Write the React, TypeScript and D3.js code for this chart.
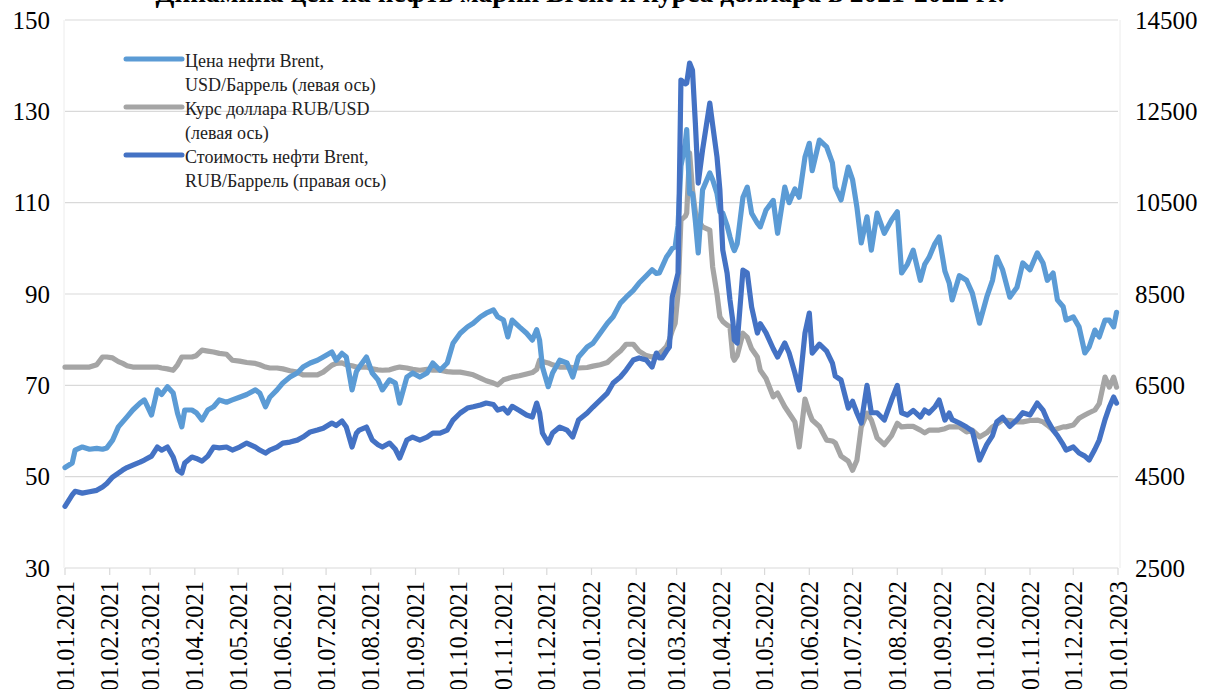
import React from 'react';
import * as d3 from 'd3';

const dates = [
  '2021-01-01','2021-01-06','2021-01-08','2021-01-13','2021-01-18','2021-01-23','2021-01-27','2021-01-30',
  '2021-02-03','2021-02-07','2021-02-10','2021-02-13','2021-02-17','2021-02-22','2021-02-25',
  '2021-03-02','2021-03-06','2021-03-09','2021-03-13','2021-03-17','2021-03-20','2021-03-23','2021-03-25','2021-03-30',
  '2021-04-02','2021-04-06','2021-04-10','2021-04-14','2021-04-18','2021-04-23','2021-04-27',
  '2021-05-02','2021-05-07','2021-05-13','2021-05-16','2021-05-20','2021-05-23','2021-05-28',
  '2021-06-01','2021-06-06','2021-06-11','2021-06-15','2021-06-20','2021-06-25','2021-06-29',
  '2021-07-05','2021-07-08','2021-07-12','2021-07-15','2021-07-19','2021-07-22','2021-07-24','2021-07-29',
  '2021-08-02','2021-08-06','2021-08-09','2021-08-14','2021-08-18','2021-08-21','2021-08-26','2021-08-30',
  '2021-09-04','2021-09-09','2021-09-13','2021-09-18','2021-09-23','2021-09-27',
  '2021-10-02','2021-10-07','2021-10-11','2021-10-16','2021-10-20','2021-10-25','2021-10-28',
  '2021-11-01','2021-11-04','2021-11-07','2021-11-12','2021-11-17','2021-11-21','2021-11-24','2021-11-26','2021-11-28',
  '2021-12-02','2021-12-05','2021-12-10','2021-12-15','2021-12-19','2021-12-23','2021-12-29',
  '2022-01-02','2022-01-07','2022-01-12','2022-01-16','2022-01-21','2022-01-25','2022-01-30',
  '2022-02-03','2022-02-08','2022-02-12','2022-02-15','2022-02-17','2022-02-19','2022-02-22','2022-02-24','2022-02-26','2022-02-28',
  '2022-03-02','2022-03-04','2022-03-07','2022-03-08','2022-03-10','2022-03-12','2022-03-14','2022-03-16','2022-03-19',
  '2022-03-24','2022-03-26','2022-03-29','2022-03-31',
  '2022-04-02','2022-04-05','2022-04-07','2022-04-09','2022-04-10','2022-04-12','2022-04-16','2022-04-19','2022-04-22','2022-04-26','2022-04-28',
  '2022-05-02','2022-05-07','2022-05-10','2022-05-15','2022-05-18','2022-05-22','2022-05-25','2022-05-29',
  '2022-06-01','2022-06-03','2022-06-08','2022-06-13','2022-06-17','2022-06-19','2022-06-23','2022-06-28',
  '2022-07-01','2022-07-04','2022-07-07','2022-07-11','2022-07-14','2022-07-18','2022-07-23','2022-07-28',
  '2022-08-01','2022-08-04','2022-08-08','2022-08-12','2022-08-17','2022-08-20','2022-08-23','2022-08-27','2022-08-30',
  '2022-09-03','2022-09-06','2022-09-08','2022-09-13','2022-09-18','2022-09-22','2022-09-27',
  '2022-10-02','2022-10-06','2022-10-09','2022-10-13','2022-10-18','2022-10-23','2022-10-27',
  '2022-11-01','2022-11-06','2022-11-10','2022-11-13','2022-11-17','2022-11-20','2022-11-24','2022-11-26',
  '2022-12-01','2022-12-05','2022-12-09','2022-12-12','2022-12-16','2022-12-19','2022-12-23','2022-12-26','2022-12-29','2022-12-31',
];

const brentUsd = [
  52, 53, 55.8, 56.5, 56, 56.2, 56, 56.3,
  58, 60.9, 62, 63.1, 64.6, 66.1, 66.8,
  63.5, 69, 68, 69.7, 68.3, 63.9, 60.9, 64.6, 64.6,
  64, 62.4, 64.6, 65.3, 66.8, 66.3, 66.8,
  67.4, 68, 69, 68.3, 65.3, 67.4, 69,
  70.5, 71.8, 72.7, 74, 74.9, 75.5, 76.2,
  77.3, 75.5, 77, 76.2, 69, 73, 74, 76.2,
  72.7, 71.2, 69, 71.2, 70.5, 66.1, 71.8, 72.7,
  71.8, 72.7, 74.9, 73.3, 74.9, 79.2,
  81.4, 82.8, 83.6, 85, 85.8, 86.5, 85,
  84.3, 80.6, 84.3, 82.8, 81.4, 79.9, 82.2, 79.9, 74,
  69.7, 72.7, 75.5, 74.9, 71.8, 76.2, 78.4,
  79.2, 81.4, 83.6, 85, 88, 89.3, 90.8,
  92.4, 94, 95.3, 94.5, 94.6, 96, 98.1, 99, 100, 100.3,
  105, 118, 123, 126, 112, 112, 106, 99, 112.8,
  116.5, 115, 112, 108,
  107.7, 105, 102.5, 100.3, 99.5, 101, 111.2, 113.4, 107.7, 105.5, 104.7,
  108.4, 110.5, 103.3, 113.4, 110, 113, 111.2, 120,
  123, 117, 123.7, 122.2, 118.7, 113.4, 110.6, 117.8,
  115, 109, 101.2, 106.9, 99.6, 107.7, 103.3, 106.2,
  108, 94.6, 96.5, 99.6, 93, 96.5, 98, 101, 102.5,
  95, 92.4, 88.7, 94, 93, 90.2, 83.6,
  89.3, 93, 98.1, 95.3, 89.3, 91.5, 96.8,
  95.3, 99, 96.8, 93, 94.6, 88.7, 87.2, 84.3,
  85, 82.8, 77.1, 78.4, 82.1, 80.6, 84.3, 84.3, 82.8, 86,
];

const rubUsd = [
  74, 74, 74, 74, 74, 74.5, 76.2, 76.2,
  76, 75.2, 74.8, 74.3, 74, 74, 74,
  74, 74, 73.8, 73.6, 73.3, 74.5, 76.2, 76.2, 76.2,
  76.5, 77.7, 77.5, 77.3, 77, 76.8, 75.5,
  75.3, 75, 74.8, 74.5, 74, 73.8, 73.8,
  73.6, 73.2, 72.9, 72.3, 72.3, 72.3, 72.9,
  74.4, 74.8, 74.9, 74.5, 74.3, 74, 74, 74,
  73.6, 73.4, 73.3, 73.4, 73.8, 74, 73.8, 73.5,
  73.3, 73.5, 73.3, 73.3, 73, 72.9,
  72.9, 72.6, 72.3, 71.6, 71, 70.5, 70.1,
  71.2, 71.5, 71.8, 72.1, 72.5, 72.8, 73.5, 75.5, 75.2,
  74.9, 74.5, 74, 74, 73.9, 73.8, 73.9,
  74.2, 74.5, 75, 76.2, 77.5, 79, 79,
  77.5, 76.5, 76.2, 76.5, 77, 77.5, 78.5, 80, 82, 83.6,
  90.2, 106.2, 107, 107.7, 120.9, 112.8, 108, 106.2, 104.7,
  104, 95.9, 90, 85,
  84, 83.2, 82.8, 76.2, 75.5, 76.5, 81.4, 80.5, 78, 76.2, 73.3,
  71.5, 67.5, 68.3, 65.3, 63.9, 62, 56.5, 67,
  64, 62.4, 61, 58, 57.8, 57.4, 54.5, 53.4,
  51.4, 53.6, 60.9, 63.9, 62.4, 58.5, 57, 59,
  61.7, 60.9, 61, 61, 60.2, 59.6, 60.2, 60.2, 60.2,
  60.5, 60.9, 60.9, 60.9, 59.8, 60.2, 58.7,
  59.6, 60.9, 61.5, 62.4, 62.3, 62, 62,
  62.3, 62.4, 62, 61.3, 60.2, 60.5, 60.9, 60.9,
  61.3, 62.8, 63.5, 64, 64.6, 66, 71.8, 69.6, 71.8, 69.6,
];

const brentRub = [
  3850, 4100, 4180, 4140, 4170, 4200, 4273, 4350,
  4492, 4580, 4645, 4700, 4755, 4820, 4864,
  4950, 5149, 5080, 5149, 4930, 4645, 4579, 4800, 4930,
  4900, 4840, 4950, 5149, 5130, 5149, 5083,
  5149, 5236, 5149, 5083, 5017, 5083, 5149,
  5236, 5258, 5300, 5368, 5480, 5521, 5560,
  5675, 5620, 5720, 5587, 5149, 5450, 5521, 5587,
  5302, 5200, 5149, 5236, 5100, 4908, 5302, 5368,
  5302, 5368, 5455, 5455, 5521, 5740,
  5894, 6003, 6030, 6068, 6112, 6080, 5959,
  6000, 5894, 6040, 5950, 5850, 5806, 6112, 5900, 5455,
  5236, 5455, 5587, 5521, 5368, 5740, 5894,
  6025, 6178, 6331, 6550, 6682, 6835, 7054,
  7100, 7054, 6900, 7207, 7100, 7100, 7250, 7338, 8434, 8700,
  8960, 13186, 13100, 13120, 13558, 13400, 12244, 10930, 11653,
  12682, 12200, 11500, 10777,
  9463, 8960, 8369, 7900, 7492, 7426, 9025, 8960, 8215, 7645, 7850,
  7650, 7300, 7120, 7426, 7207, 6770, 6397, 7645,
  8083, 7207, 7400, 7250, 6988, 6700, 6616, 6000,
  6150, 5894, 5675, 6500, 5900, 5900, 5740, 6178,
  6500, 5900, 5850, 5950, 5806, 5959, 5894, 6025, 6178,
  5740, 5894, 5750, 5675, 5587, 5500, 4864,
  5200, 5400, 5700, 5800, 5600, 5750, 5900,
  5850, 6112, 5959, 5740, 5521, 5400, 5200, 5083,
  5150, 5017, 4950, 4864, 5100, 5302, 5750, 6025, 6243, 6112,
];

const leftTicks = [30, 50, 70, 90, 110, 130, 150];
const rightTicks = [2500, 4500, 6500, 8500, 10500, 12500, 14500];
const monthLabels = [
  '01.01.2021','01.02.2021','01.03.2021','01.04.2021','01.05.2021','01.06.2021','01.07.2021','01.08.2021',
  '01.09.2021','01.10.2021','01.11.2021','01.12.2021','01.01.2022','01.02.2022','01.03.2022','01.04.2022',
  '01.05.2022','01.06.2022','01.07.2022','01.08.2022','01.09.2022','01.10.2022','01.11.2022','01.12.2022','01.01.2023',
];

const seriesNames = [
  ['Цена нефти Brent,', 'USD/Баррель (левая ось)'],
  ['Курс доллара RUB/USD', '(левая ось)'],
  ['Стоимость нефти Brent,', 'RUB/Баррель (правая ось)'],
];
const colors = ['#5b9bd5', '#a5a5a5', '#4472c4'];
const title = 'Динамика цен на нефть марки Brent и курса доллара в 2021-2022 гг.';

export default function App() {
  const W = 1205;
  const H = 689;
  const left = 65, right = 1118, top = 20, bottom = 568;
  const parseD = d3.timeParse('%Y-%m-%d');
  const parseM = d3.timeParse('%d.%m.%Y');
  const dd = dates.map((s) => parseD(s) as Date);
  const x = d3.scaleTime().domain([parseM('01.01.2021') as Date, parseM('01.01.2023') as Date]).range([left, right]);
  const yL = d3.scaleLinear().domain([30, 150]).range([bottom, top]);
  const yR = d3.scaleLinear().domain([2500, 14500]).range([bottom, top]);
  const lineL = d3.line<number>().x((_, i) => x(dd[i])).y((v) => yL(v));
  const lineR = d3.line<number>().x((_, i) => x(dd[i])).y((v) => yR(v));
  const font = '"Liberation Serif", "Times New Roman", serif';
  const grid = '#d9d9d9';
  const sw = 5.2;

  const legendY = [59, 107, 155];

  return (
    <svg width={W} height={H} style={{ position: 'absolute', left: 0, top: 0, background: '#fff' }} fontFamily={font}>
      <rect x={0} y={0} width={W} height={H} fill="#fff" />
      <text x={580} y={1.5} textAnchor="middle" fontSize={27.5} fontWeight="bold" fill="#000">{title}</text>
      {leftTicks.map((t) => (
        <line key={'g' + t} x1={left} x2={right} y1={yL(t)} y2={yL(t)} stroke={grid} strokeWidth={1.2} />
      ))}
      <line x1={left - 1} x2={left - 1} y1={top} y2={bottom} stroke="#ececec" strokeWidth={1} />
      <line x1={right + 2} x2={right + 2} y1={top} y2={bottom} stroke="#ececec" strokeWidth={1} />
      {monthLabels.map((m) => {
        const xx = x(parseM(m) as Date);
        return (
          <g key={m}>
            <line x1={xx} x2={xx} y1={bottom} y2={bottom + 7} stroke={grid} strokeWidth={1.2} />
            <text transform={`translate(${xx},581) rotate(-90)`} textAnchor="end" dy="0.35em" fontSize={24.5} fill="#000">{m}</text>
          </g>
        );
      })}
      {leftTicks.map((t) => (
        <text key={'l' + t} x={50} y={yL(t)} dy="0.35em" textAnchor="end" fontSize={25} fill="#000">{t}</text>
      ))}
      {rightTicks.map((t) => (
        <text key={'r' + t} x={1135} y={yR(t)} dy="0.35em" textAnchor="start" fontSize={25} fill="#000">{t}</text>
      ))}
      <path d={lineL(rubUsd) || ''} fill="none" stroke={colors[1]} strokeWidth={sw} strokeLinejoin="round" strokeLinecap="round" />
      <path d={lineL(brentUsd) || ''} fill="none" stroke={colors[0]} strokeWidth={sw} strokeLinejoin="round" strokeLinecap="round" />
      <path d={lineR(brentRub) || ''} fill="none" stroke={colors[2]} strokeWidth={sw} strokeLinejoin="round" strokeLinecap="round" />
      {seriesNames.map((lines, i) => (
        <g key={'lg' + i}>
          <line x1={126} x2={182} y1={legendY[i]} y2={legendY[i]} stroke={colors[i]} strokeWidth={5} strokeLinecap="round" />
          {lines.map((s, j) => (
            <text key={j} x={185} y={legendY[i] + 8 + j * 24} fontSize={18} fill="#222">{s}</text>
          ))}
        </g>
      ))}
    </svg>
  );
}
